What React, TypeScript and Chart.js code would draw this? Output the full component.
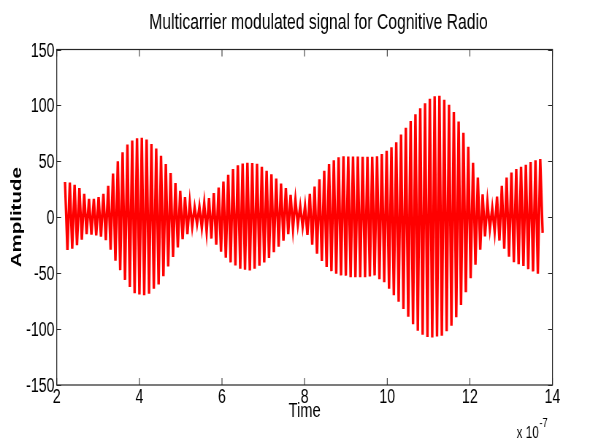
import { useEffect, useRef } from "react";
import { Chart, registerables } from "chart.js";

Chart.register(...registerables);

// ---- text ----
const chartTitle = "Multicarrier modulated signal for Cognitive Radio";
const xAxisTitle = "Time";
const yAxisTitle = "Amplitude";
const xScaleBase = "x 10";
const xScaleExponent = "-7";

// ---- axes ----
const xTickValues = [2, 4, 6, 8, 10, 12, 14];
const yTickValues = [-150, -100, -50, 0, 50, 100, 150];
const xRange = [2, 14];
const yRange = [-150, 150];

// ---- signal samples (time in units of 1e-7 s, uniform sampling) ----
const sampleStart = 2.2;
const sampleStep = 0.0581;

// positive half-cycle samples
const crestValues = [
  31.5, 31, 29, 26, 21, 16.5, 16.5, 18, 21, 28,
  39, 50, 58, 65, 68.5, 70.5, 71, 69.5, 65.5, 61.5,
  55, 47.5, 39.5, 30.5, 23.5, 18, 13.5, 9, 9.5, 12.5,
  17, 21.5, 26.5, 32, 38, 43, 46.5, 48, 48.6, 48.5,
  47.7, 45, 41.5, 38.3, 34.5, 30, 26, 20, 15.5, 10,
  10, 21, 27.5, 34, 41.5, 47.5, 51, 53.5, 54.5, 54.3,
  54.3, 54.3, 54, 54, 54, 54.5, 56.5, 59.5, 62.5, 67,
  74, 80, 86, 92, 97.5, 102, 106, 108.2, 108.6, 105,
  100.5, 94, 85.5, 75.5, 63, 48.6, 35.5, 20.5, 13.5, 8.5,
  18.5, 28, 35.5, 40, 43, 45, 47, 49.3, 51, 52,
];

// negative half-cycle samples
const troughValues = [
  -29.3, -28, -25, -20, -15, -15.5, -16.2, -17.4, -20.5, -29,
  -38.8, -47.3, -56, -62.3, -68, -69, -69.8, -68.4, -64, -60,
  -52.8, -44, -35.5, -27, -19.6, -15, -8.4, -6, -9.5, -13,
  -19, -24.6, -30.7, -36.2, -40.4, -43.2, -46, -47, -47.5, -46.1,
  -43.4, -40.5, -36.4, -31.3, -26.4, -21, -15, -10.5, -6.8, -8.5,
  -15.7, -24.5, -32.5, -39, -44.5, -48.2, -50.5, -52, -52.2, -53.5,
  -53.5, -53.5, -53.5, -53, -52, -55.3, -58, -64, -69.8, -75.5,
  -82, -89, -95.6, -101.5, -105, -107, -107.5, -106.6, -106, -102,
  -97, -89.5, -78.5, -67, -54.5, -42.5, -29, -17, -10.5, -13,
  -20.8, -28, -35.2, -40.2, -42, -43.6, -46.4, -48.4, -50.5, -14,
];

// interleave crest / trough samples onto the sampling grid
const signalPoints: { x: number; y: number }[] = [];
crestValues.forEach((crest, k) => {
  signalPoints.push({ x: sampleStart + 2 * k * sampleStep, y: crest });
  signalPoints.push({ x: sampleStart + (2 * k + 1) * sampleStep, y: troughValues[k] });
});

// ---- drawing surface ----
const CANVAS_W = 808; // drawn wide, shown narrow
const CANVAS_H = 441;
const SHOW_W = 590;
const SHOW_H = 441;

const INK = "#000000";
const FRAME = "#262626";
const FONT = '"Liberation Sans", Arial, Helvetica, sans-serif';

const frameAndText = {
  id: "frameAndText",
  afterDatasetsDraw(chart: any) {
    const { ctx, chartArea: a, scales } = chart;
    const xs = scales.x;
    const ys = scales.y;
    ctx.save();

    // axes box
    ctx.strokeStyle = FRAME;
    ctx.lineWidth = 1.2;
    ctx.strokeRect(a.left, a.top, a.right - a.left, a.bottom - a.top);

    // inward ticks on all four sides
    ctx.lineWidth = 1;
    ctx.beginPath();
    const tx = 7;
    const ty = 6;
    for (const v of xTickValues) {
      const px = xs.getPixelForValue(v);
      ctx.moveTo(px, a.bottom);
      ctx.lineTo(px, a.bottom - tx);
      ctx.moveTo(px, a.top);
      ctx.lineTo(px, a.top + tx);
    }
    for (const v of yTickValues) {
      const py = Math.round(ys.getPixelForValue(v)) + 0.5;
      ctx.moveTo(a.left, py);
      ctx.lineTo(a.left + ty, py);
      ctx.moveTo(a.right, py);
      ctx.lineTo(a.right - ty, py);
    }
    ctx.stroke();

    ctx.fillStyle = INK;

    // tick labels
    ctx.font = `19.5px ${FONT}`;
    ctx.textBaseline = "alphabetic";
    ctx.textAlign = "right";
    for (const v of yTickValues) {
      ctx.fillText(String(v), a.left - 3, ys.getPixelForValue(v) + 7);
    }
    ctx.textAlign = "center";
    for (const v of xTickValues) {
      ctx.fillText(String(v), xs.getPixelForValue(v), a.bottom + 17.5);
    }

    const midX = (a.left + a.right) / 2;
    const midY = (a.top + a.bottom) / 2;

    // title
    ctx.font = `21.5px ${FONT}`;
    ctx.textAlign = "center";
    ctx.fillText(chartTitle, midX + 19, 28.5);

    // x-axis title
    ctx.font = `20px ${FONT}`;
    ctx.fillText(xAxisTitle, midX, a.bottom + 32);

    // x scale factor
    ctx.textAlign = "left";
    ctx.font = `16px ${FONT}`;
    const baseX = a.right - 49;
    ctx.fillText(xScaleBase, baseX, a.bottom + 53);
    const baseW = ctx.measureText(xScaleBase).width;
    ctx.font = `12.5px ${FONT}`;
    ctx.fillText(xScaleExponent, baseX + baseW + 1, a.bottom + 42);

    // y-axis title
    ctx.save();
    ctx.translate(29, midY);
    ctx.rotate(-Math.PI / 2);
    ctx.font = `bold 20.5px ${FONT}`;
    ctx.textAlign = "center";
    ctx.fillText(yAxisTitle, 0, 0);
    ctx.restore();

    ctx.restore();
  },
};

export default function App() {
  const canvasRef = useRef<HTMLCanvasElement | null>(null);

  useEffect(() => {
    const canvas = canvasRef.current;
    if (!canvas) return;
    const chart = new Chart(canvas, {
      type: "line",
      data: {
        datasets: [
          {
            data: signalPoints,
            borderColor: "#ff0000",
            borderWidth: 3.4,
            pointRadius: 0,
            tension: 0,
            fill: false,
          },
        ],
      },
      options: {
        responsive: false,
        animation: false,
        devicePixelRatio: 1,
        layout: { padding: { left: 77.7, right: 51.4, top: 49.5, bottom: 56 } },
        plugins: {
          legend: { display: false },
          tooltip: { enabled: false },
          title: { display: false },
        },
        scales: {
          x: { type: "linear", display: false, min: xRange[0], max: xRange[1] },
          y: { type: "linear", display: false, min: yRange[0], max: yRange[1] },
        },
      },
      plugins: [frameAndText],
    });
    return () => chart.destroy();
  }, []);

  return (
    <div style={{ position: "fixed", left: 0, top: 0, width: SHOW_W, height: SHOW_H, background: "#ffffff" }}>
      <canvas
        ref={canvasRef}
        width={CANVAS_W}
        height={CANVAS_H}
        style={{ width: `${SHOW_W}px`, height: `${SHOW_H}px` }}
      />
    </div>
  );
}
